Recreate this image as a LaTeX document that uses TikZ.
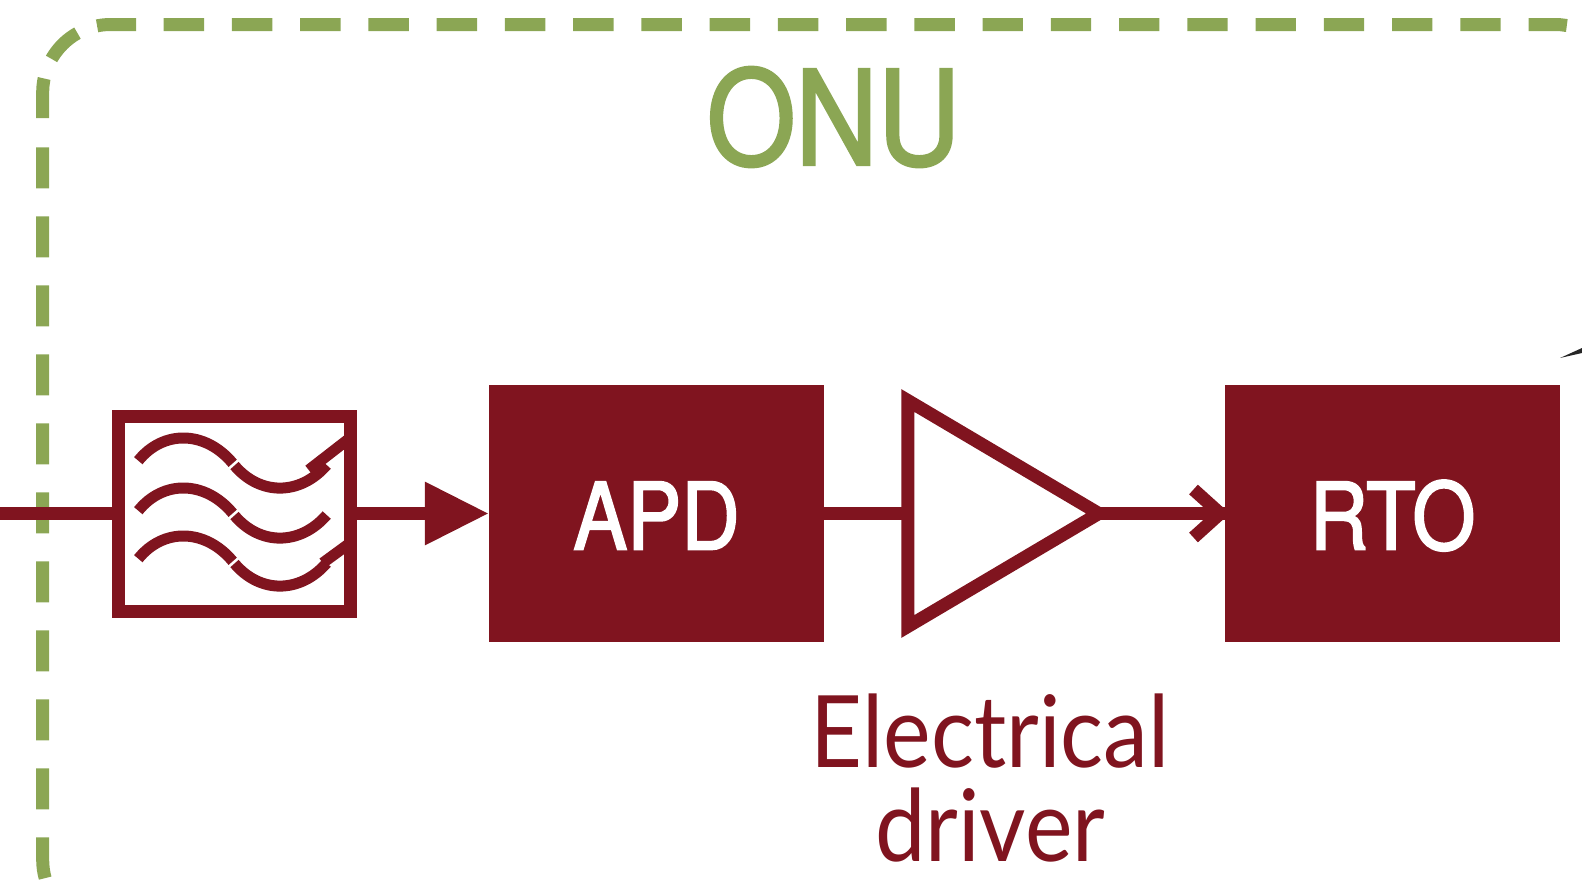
\documentclass[tikz,border=0pt]{standalone}
\usepackage{fontspec}
\usepackage{xcolor}
\usepackage{tikz}
\usetikzlibrary{arrows.meta,shapes.geometric}
\setmainfont[FakeStretch=0.9]{Lato}
\newfontfamily\heros[FakeStretch=0.87, FakeBold=2]{TeX Gyre Heros}
\definecolor{wine}{HTML}{80141F}
\definecolor{olive}{HTML}{8BA654}

\begin{document}
\begin{tikzpicture}[
        x=1pt, y=-1pt,
        signal/.style={draw=wine, line width=13pt},
        wave/.style={draw=wine, line width=11pt},
        frame/.style={draw=olive, line width=13pt},
        block/.style={rectangle, fill=wine, text=white, inner sep=0pt, minimum width=335pt, minimum height=257.5pt, text height=72pt, text depth=0pt, font=\heros\fontsize{93}{93}\selectfont}
    ]
    \useasboundingbox (0,0) rectangle (1582,881);

    % ONU frame, three pieces so the corner dashes fit
    \draw[frame, dash pattern=on 40.4pt off 27.84pt] (163.7,24.5) -- (1555,24.5) arc[start angle=270, end angle=280, radius=68];
    \draw[frame, dash pattern=on 39pt off 21pt on 37pt off 21pt on 40pt off 40pt] (136,24.5) -- (110.7,24.5) arc[start angle=270, end angle=180, radius=68] -- (42.7,118);
    \draw[frame, dash pattern=on 41pt off 28pt] (42.7,147.3) -- (42.7,860) arc[start angle=180, end angle=164, radius=68];
    \node[text=olive, inner sep=0pt, font=\heros\fontsize{131}{131}\selectfont] (onu) at (833.5,117) {ONU};

    % Blocks
    \coordinate (input) at (0,513.5);
    \node[draw=wine, line width=13pt, minimum width=232pt, minimum height=195pt, inner sep=0pt] (filter) at (234.5,513.5) {};
    \node[block] (apd) at (656.5,513.5) {APD};
    \node[isosceles triangle, isosceles triangle stretches, shape border rotate=0, draw=wine, line width=13pt, miter limit=10, inner sep=0pt, outer sep=0pt, minimum width=226pt, minimum height=191pt, anchor=apex] (amp) at (1098.8,513.5) {};
    \node[block] (rto) at (1392.5,513.5) {RTO};
    \node[text=wine, align=center, inner sep=0pt, font=\fontsize{100}{94}\selectfont] (driver) at (990.3,778) {Electrical\\driver};

    % Connections
    \draw[signal] (input) -- (filter);
    \draw[signal, -{Triangle[length=64pt, width=60pt]}] (filter) -- (apd);
    \draw[signal] (apd) -- (amp);
    \draw[signal] (amp.apex) -- (rto);
    \draw[signal, shorten >=-5pt, -{Straight Barb[length=26.6pt, width=48pt, line width=13pt]}] (amp.apex) -- (rto);

    % Filter curves
    \foreach \dy in {0,50,98} {
        \draw[wave] (138.3,460.7+\dy) .. controls (163,430+\dy) and (205,430+\dy) .. (232.7,463.3+\dy);
        \draw[wave] (234.5,465.5+\dy) .. controls (260,495.7+\dy) and (300,495.7+\dy) .. (326.7,465+\dy);
    }
    \draw[wave] (308.7,470) -- (348,439.5);
    \draw[wave] (322.7,563) -- (348,544.5);

    % Piece of a line coming in from the right
    \fill[black!85] (1560,358) -- (1582,348) -- (1582,353) -- cycle;
\end{tikzpicture}
\end{document}
